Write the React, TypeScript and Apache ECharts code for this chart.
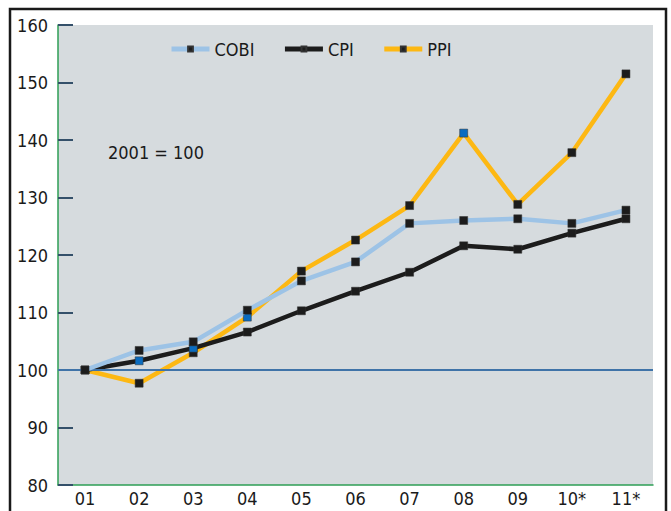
import React, { useEffect, useRef } from "react";
import * as echarts from "echarts";

const categories = ["01", "02", "03", "04", "05", "06", "07", "08", "09", "10*", "11*"];
const cobi = [100, 103.4, 104.9, 110.4, 115.5, 118.8, 125.5, 126.0, 126.3, 125.5, 127.8];
const cpi = [100, 101.6, 103.8, 106.6, 110.3, 113.7, 117.0, 121.6, 121.0, 123.8, 126.3];
const ppi = [100, 97.7, 103.0, 109.2, 117.2, 122.6, 128.6, 141.2, 128.8, 137.8, 151.5];
const blueMarks: Record<string, number[]> = { CPI: [1, 2], PPI: [3, 7], COBI: [] };
const baseline = 100;
const annotation = "2001 = 100";

const FONT = "'Liberation Sans Narrow', 'DejaVu Sans Condensed', 'Open Sans', sans-serif";

function seriesData(name: string, values: number[]) {
  return values.map((v, i) =>
    blueMarks[name].includes(i) ? { value: v, itemStyle: { color: "#0a6cc0" } } : v
  );
}

export default function App() {
  const ref = useRef<HTMLDivElement>(null);
  useEffect(() => {
    if (!ref.current) return;
    const chart = echarts.init(ref.current, null, { renderer: "svg" });
    const mk = (name: string, values: number[], color: string) => ({
      name,
      type: "line",
      color,
      data: seriesData(name, values),
      symbol: "rect",
      symbolSize: 8,
      lineStyle: { color, width: 4.5 },
      itemStyle: { color: "#1c1c1c", borderColor: "#333", borderWidth: 0.5 },
      z: name === "CPI" ? 4 : name === "PPI" ? 3 : 5,
    });
    const series: any[] = [mk("COBI", cobi, "#9dc3e6"), mk("CPI", cpi, "#1c1c1c"), mk("PPI", ppi, "#fdb813")];
    series[0].markLine = {
      silent: true,
      symbol: "none",
      label: { show: false },
      lineStyle: { color: "#3f73a8", width: 2, type: "solid" },
      data: [{ yAxis: baseline }],
    };
    chart.setOption({
      animation: false,
      backgroundColor: "#ffffff",
      textStyle: { fontFamily: FONT },
      grid: {
        left: 58,
        right: 18,
        top: 25,
        bottom: 26,
        show: true,
        backgroundColor: "#d6dbde",
        borderWidth: 0,
      },
      legend: {
        top: 35,
        left: 164,
        itemGap: 28,
        itemWidth: 38,
        itemHeight: 6,
        textStyle: { fontSize: 18, color: "#1a1a1a", fontFamily: FONT },
        data: [
          { name: "COBI", itemStyle: { color: "#1c1c1c" }, lineStyle: { color: "#9dc3e6", width: 5 } },
          { name: "CPI", itemStyle: { color: "#1c1c1c" }, lineStyle: { color: "#1c1c1c", width: 5 } },
          { name: "PPI", itemStyle: { color: "#1c1c1c" }, lineStyle: { color: "#fdb813", width: 5 } },
        ],
      },
      xAxis: {
        type: "category",
        data: categories,
        boundaryGap: true,
        axisLine: { lineStyle: { color: "#2e9e55", width: 1.5 } },
        axisTick: { inside: true, length: 12, alignWithLabel: true, lineStyle: { color: "#34506a", width: 1.5 } },
        axisLabel: { fontSize: 18, color: "#1a1a1a", margin: 4, fontFamily: FONT },
        splitLine: { show: false },
      },
      yAxis: {
        type: "value",
        min: 80,
        max: 160,
        interval: 10,
        axisLine: { show: true, lineStyle: { color: "#2e9e55", width: 1.5 } },
        axisTick: { show: true, inside: true, length: 15, lineStyle: { color: "#34506a", width: 2 } },
        axisLabel: { fontSize: 18, color: "#1a1a1a", margin: 10, fontFamily: FONT },
        splitLine: { show: false },
      },
      graphic: [
        {
          type: "rect",
          shape: { x: 10, y: 9, width: 656, height: 520 },
          style: { fill: "none", stroke: "#1a1a1a", lineWidth: 2.5 },
          z: 100,
          silent: true,
        },
        {
          type: "text",
          x: 108,
          y: 143,
          style: { text: annotation, fontSize: 18, fill: "#1a1a1a", fontFamily: FONT },
          z: 100,
        },
      ],
      series,
    });
    return () => chart.dispose();
  }, []);
  return (
    <div
      ref={ref}
      style={{ position: "fixed", left: 0, top: 0, width: 671, height: 511, background: "#fff" }}
    />
  );
}
